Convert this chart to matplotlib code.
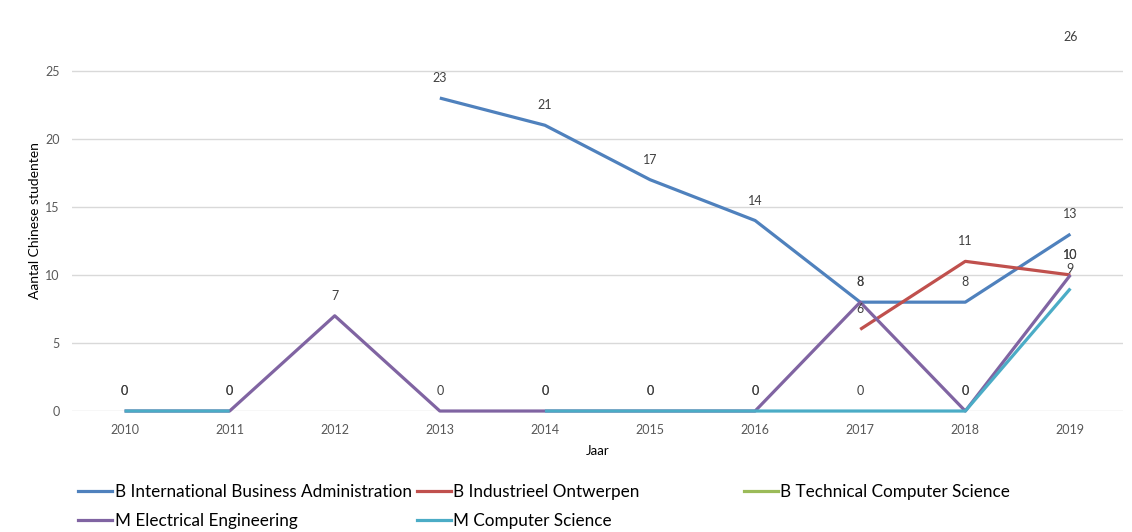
import numpy as np
import matplotlib
matplotlib.use("Agg")
import matplotlib.pyplot as plt
from matplotlib.lines import Line2D

# ===== data =====
years = ["2010", "2011", "2012", "2013", "2014", "2015", "2016", "2017", "2018", "2019"]
nan = np.nan
ib_admin = [nan, nan, nan, 23, 21, 17, 14, 8, 8, 13]
ind_ontwerpen = [nan, nan, nan, nan, nan, nan, nan, 6, 11, 10]
tech_cs = [nan, nan, nan, nan, nan, nan, nan, nan, nan, 26]
elec_eng = [0, 0, 7, 0, 0, 0, 0, 8, 0, 10]
comp_sci = [0, 0, nan, nan, 0, 0, 0, 0, 0, 9]

series_names = [
    "B International Business Administration",
    "B Industrieel Ontwerpen",
    "B Technical Computer Science",
    "M Electrical Engineering",
    "M Computer Science",
]
series_values = [ib_admin, ind_ontwerpen, tech_cs, elec_eng, comp_sci]
colors = ["#4F81BD", "#C0504D", "#9BBB59", "#8064A2", "#4BACC6"]

plt.rcParams["font.family"] = ["Lato", "DejaVu Sans"]

fig = plt.figure(figsize=(11.32, 5.32), dpi=100)
ax = fig.add_axes([0.0636, 0.2274, 0.9284, 0.7162])

x = np.arange(len(years))
for name, vals, col in zip(series_names, series_values, colors):
    v = np.array(vals, dtype=float)
    ax.plot(x, v, color=col, lw=2.3, solid_capstyle="butt", clip_on=False, label=name)
    for xi, yi in zip(x, v):
        if not np.isnan(yi):
            ax.annotate(f"{int(yi)}", (xi, yi), xytext=(0, 14.4), textcoords="offset points",
                        ha="center", va="center", fontsize=9, color="#404040")

ax.set_xlim(-0.5, len(years) - 0.5)
ax.set_ylim(0, 28)
ax.set_yticks([0, 5, 10, 15, 20, 25])
ax.set_xticks(x)
ax.set_xticklabels(years)
ax.tick_params(length=0, labelsize=9, colors="#595959", pad=9)
ax.grid(axis="y", color="#D9D9D9", lw=1)
ax.set_axisbelow(True)
for s in ax.spines.values():
    s.set_visible(False)

ax.set_ylabel("Aantal Chinese studenten", fontsize=10, color="#000000", labelpad=3)
ax.set_xlabel("Jaar", fontsize=9.5, color="#000000", labelpad=7)

# legend laid out in three columns like Excel
col_x = [0.069, 0.368, 0.657]
row_items = [[0, 3], [1, 4], [2]]
for cx, idxs in zip(col_x, row_items):
    handles = [Line2D([], [], color=colors[i], lw=2.3) for i in idxs]
    labels = [series_names[i] for i in idxs]
    fig.legend(handles, labels, loc="upper left", bbox_to_anchor=(cx, 0.091),
               frameon=False, fontsize=12.3, handlelength=2.0, handletextpad=0.15,
               labelspacing=0.8, borderaxespad=0, borderpad=0)

fig.savefig("out.png", dpi=100)
